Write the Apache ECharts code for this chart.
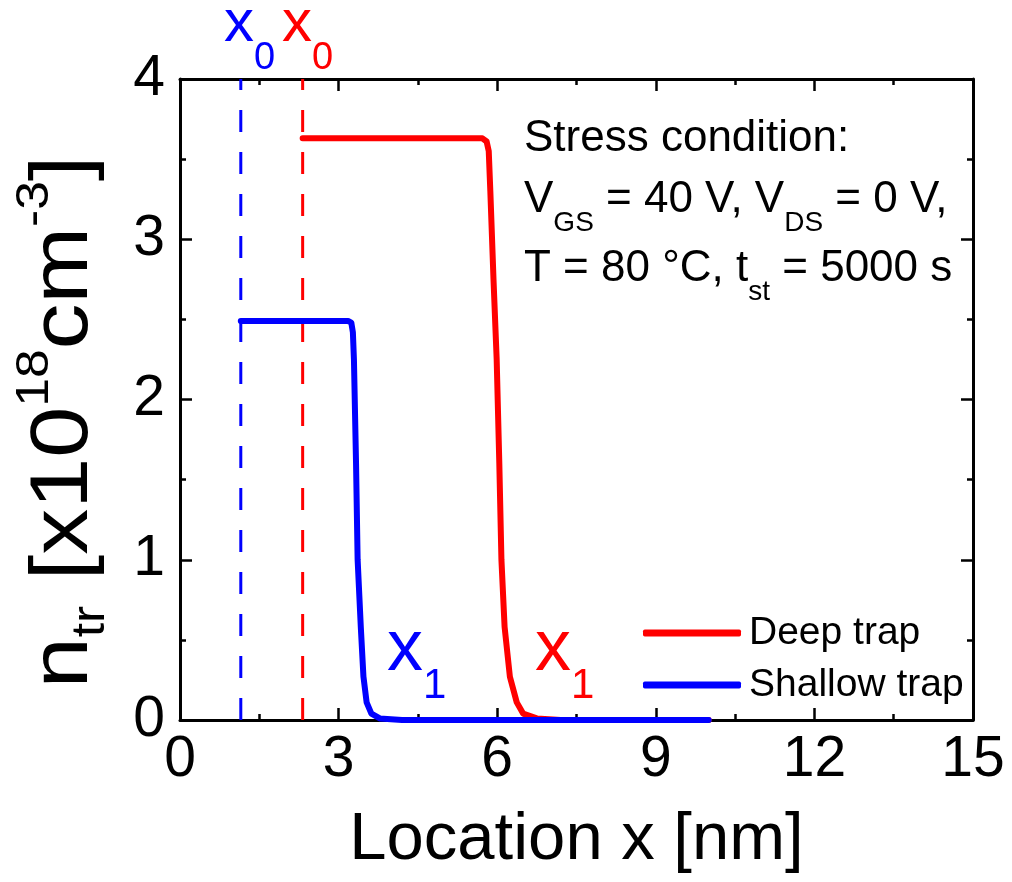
<!DOCTYPE html>
<html>
<head>
<meta charset="utf-8">
<script src="https://cdn.jsdelivr.net/npm/echarts@6/dist/echarts.min.js"></script>
<style>
  html, body { margin: 0; padding: 0; background: #fff; }
  #chart { width: 1012px; height: 882px; }
</style>
</head>
<body>
<div id="chart"></div>
<script>
// values: [location x in nm, n_tr in 1e18 cm^-3]
const deepTrap = [
    [2.32, 3.63], [5.72, 3.63], [5.80, 3.61], [5.84, 3.55], [5.87, 3.30],
    [5.93, 2.75], [5.99, 2.25], [6.04, 1.60], [6.08, 1.00], [6.14, 0.58],
    [6.24, 0.27], [6.37, 0.11], [6.49, 0.04], [6.75, 0.01], [7.20, 0.00],
    [10.0, 0.00]
];
const shallowTrap = [
    [1.15, 2.49], [3.18, 2.49], [3.24, 2.48], [3.27, 2.42], [3.29, 2.25],
    [3.33, 1.60], [3.36, 1.00], [3.42, 0.58], [3.47, 0.27], [3.53, 0.11],
    [3.62, 0.04], [3.78, 0.01], [4.20, 0.00], [10.0, 0.00]
];
// x0 positions (dashed markers)
const x0Deep = 2.32;
const x0Shallow = 1.15;

const xRange = [0, 15];
const xStep = 3;
const yRange = [0, 4];
const yStep = 1;

const seriesNames = ['Deep trap', 'Shallow trap'];
const RED = '#ff0000';
const BLUE = '#0000ff';
const FONT = '"Liberation Sans", Arial, sans-serif';

const chart = echarts.init(document.getElementById('chart'), null, { renderer: 'canvas' });

function axisCommon() {
    return {
        type: 'value',
        axisLine: { show: true, onZero: false, lineStyle: { color: '#000', width: 3 } },
        axisTick: { show: true, inside: true, length: 12, lineStyle: { color: '#000', width: 2.5 } },
        minorTick: { show: true, splitNumber: 2, length: 6, lineStyle: { color: '#000', width: 2.5 } },
        splitLine: { show: false },
        minorSplitLine: { show: false },
    };
}

const xBottom = Object.assign(axisCommon(), {
    position: 'bottom',
    min: xRange[0], max: xRange[1], interval: xStep,
    axisLabel: { fontSize: 57, fontFamily: FONT, color: '#000', margin: 12 },
    name: 'Location x [nm]',
    nameLocation: 'middle',
    nameGap: 87,
    nameTextStyle: { fontSize: 67, fontFamily: FONT, color: '#000' },
});
const xTop = Object.assign(axisCommon(), {
    position: 'top',
    min: xRange[0], max: xRange[1], interval: xStep,
    axisLabel: { show: false },
});
const yLeft = Object.assign(axisCommon(), {
    position: 'left',
    min: yRange[0], max: yRange[1], interval: yStep,
    axisLabel: { fontSize: 57, fontFamily: FONT, color: '#000', margin: 15 },
});
const yRight = Object.assign(axisCommon(), {
    position: 'right',
    min: yRange[0], max: yRange[1], interval: yStep,
    axisLabel: { show: false },
});

// text with one subscript size, sub shifted down by padding
function subText(txt, x, y, color, big, small, pad) {
    return {
        type: 'text',
        x: x,
        y: y,
        style: {
            text: txt,
            fill: color,
            align: 'left',
            verticalAlign: 'middle',
            rich: {
                a: { fontSize: big, fontFamily: FONT, fill: color },
                s: { fontSize: small, fontFamily: FONT, fill: color, padding: [pad, 0, 0, 0] },
            }
        }
    };
}

const option = {
    animation: false,
    backgroundColor: '#fff',
    grid: { left: 180, right: 39, top: 79, bottom: 162 },
    xAxis: [xBottom, xTop],
    yAxis: [yLeft, yRight],
    legend: {
        data: seriesNames,
        orient: 'vertical',
        left: 638,
        top: 608,
        icon: 'roundRect',
        itemWidth: 98,
        itemHeight: 7,
        itemGap: 12,
        textStyle: { fontSize: 39, fontFamily: FONT, color: '#000', lineHeight: 40, padding: [0, 0, 0, 3] },
    },
    series: [
        {
            type: 'line',
            data: [[x0Shallow, yRange[0]], [x0Shallow, yRange[1]]],
            symbol: 'none',
            lineStyle: { color: BLUE, width: 3, type: [22, 20] },
            silent: true,
            z: 1,
        },
        {
            type: 'line',
            data: [[x0Deep, yRange[0]], [x0Deep, yRange[1]]],
            symbol: 'none',
            lineStyle: { color: RED, width: 3, type: [22, 20] },
            silent: true,
            z: 1,
        },
        {
            name: seriesNames[0],
            type: 'line',
            data: deepTrap,
            symbol: 'none',
            color: RED,
            lineStyle: { color: RED, width: 6, cap: 'round', join: 'round' },
            z: 2,
        },
        {
            name: seriesNames[1],
            type: 'line',
            data: shallowTrap,
            symbol: 'none',
            color: BLUE,
            lineStyle: { color: BLUE, width: 6, cap: 'round', join: 'round' },
            z: 3,
        },
    ],
    graphic: [
        // y-axis title
        {
            type: 'text',
            x: 64,
            y: 422,
            rotation: Math.PI / 2,
            scaleX: 1.12,
            style: {
                text: '{a|n}{s|tr}{a| [x10}{p|18}{a|cm}{p|-3}{a|]}',
                fill: '#000',
                align: 'center',
                verticalAlign: 'middle',
                rich: {
                    a: { fontSize: 82, fontFamily: FONT, fill: '#000' },
                    s: { fontSize: 46, fontFamily: FONT, fill: '#000', padding: [54, 0, 0, 0] },
                    p: { fontSize: 46, fontFamily: FONT, fill: '#000', padding: [0, 0, 58, 0] },
                }
            }
        },
        {
            type: 'text', x: 524, y: 139,
            style: { text: 'Stress condition:', fontSize: 44, fontFamily: FONT, fill: '#000', verticalAlign: 'middle' }
        },
        subText('{a|V}{s|GS}{a| = 40 V, V}{s|DS}{a| = 0 V,}', 524, 200, '#000', 44, 28, 46),
        subText('{a|T = 80 °C, t}{s|st}{a| = 5000 s}', 524, 269, '#000', 44, 28, 46),
        subText('{a|x}{s|0}', 224, 24, BLUE, 60, 38, 70),
        subText('{a|x}{s|0}', 282, 24, RED, 60, 38, 70),
        subText('{a|x}{s|1}', 387, 650, BLUE, 72, 42, 72),
        subText('{a|x}{s|1}', 535, 650, RED, 72, 42, 72),
    ],
};

chart.setOption(option);
</script>
</body>
</html>
